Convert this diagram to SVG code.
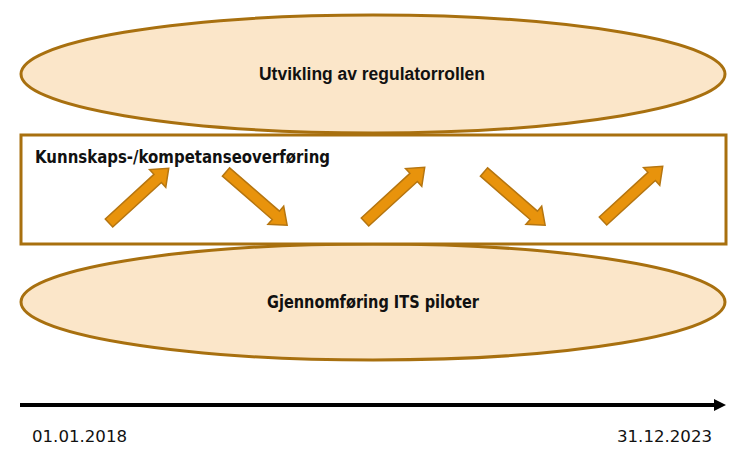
<svg xmlns="http://www.w3.org/2000/svg" width="744" height="455" viewBox="0 0 744 455">
<style>
.oval{fill:#FBE6C9;stroke:#A8700F;stroke-width:3}
.box{fill:#FFFFFF;stroke:#A8700F;stroke-width:3}
.arr{fill:#E8930C;stroke:#B57510;stroke-width:1.5;stroke-linejoin:miter}
.lbl{font-family:"DejaVu Sans","Liberation Sans",sans-serif;font-weight:bold;fill:#111}
.cond{font-family:"Liberation Sans",sans-serif;fill:#111}
.date{font-family:"DejaVu Sans","Liberation Sans",sans-serif;fill:#111}
</style>
<defs>
<path id="ar" class="arr" d="M0,-5.5 L66,-5.5 L66,-12 L81,0 L66,12 L66,5.5 L0,5.5 Z"/>
<marker id="tl" viewBox="0 0 10 10" refX="0" refY="5" markerWidth="3.5" markerHeight="3" orient="auto" markerUnits="strokeWidth">
<path d="M0,0 L10,5 L0,10 Z" fill="#000"/>
</marker>
</defs>
<g id="node-regulator">
<ellipse class="oval" cx="373" cy="74" rx="352" ry="59"/>
<text class="cond" x="372" y="80" text-anchor="middle" font-size="18" font-weight="bold" textLength="226" lengthAdjust="spacingAndGlyphs">Utvikling av regulatorrollen</text>
</g>
<g id="node-piloter">
<ellipse class="oval" cx="373" cy="302" rx="352" ry="58"/>
<text class="lbl" x="373" y="308" text-anchor="middle" font-size="17" textLength="212" lengthAdjust="spacingAndGlyphs">Gjennomføring ITS piloter</text>
</g>
<g id="node-kompetanse">
<rect class="box" x="21" y="135" width="705" height="109"/>
<text class="lbl" x="35" y="163" font-size="17" textLength="295" lengthAdjust="spacingAndGlyphs">Kunnskaps-/kompetanseoverføring</text>
</g>
<g id="connectors">
<use href="#ar" transform="translate(109,223) rotate(-42.5)"/>
<use href="#ar" transform="translate(226,172) rotate(41)"/>
<use href="#ar" transform="translate(365,222) rotate(-42.5)"/>
<use href="#ar" transform="translate(484,172) rotate(41)"/>
<use href="#ar" transform="translate(603,221) rotate(-42.5)"/>
<line x1="20" y1="405" x2="714" y2="405" stroke="#000" stroke-width="4" marker-end="url(#tl)"/>
</g>
<g id="node-dates">
<text class="date" x="32" y="442" font-size="16" textLength="95" lengthAdjust="spacingAndGlyphs">01.01.2018</text>
<text class="date" x="617" y="442" font-size="16" textLength="95" lengthAdjust="spacingAndGlyphs">31.12.2023</text>
</g>
</svg>
